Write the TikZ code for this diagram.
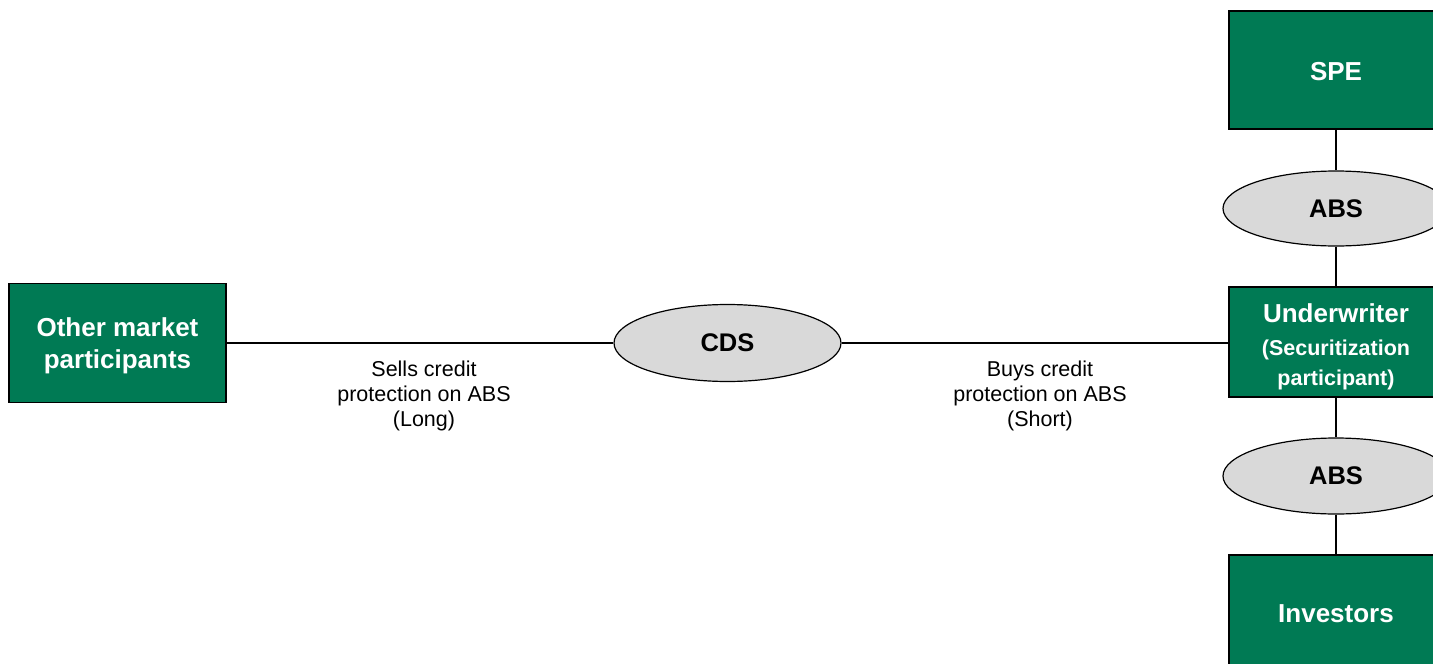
\documentclass[tikz,border=0pt]{standalone}
\usepackage{fontspec}
\setmainfont{Liberation Sans}
\usetikzlibrary{shapes.geometric}
\definecolor{boxgreen}{HTML}{007A54}
\definecolor{ovalgray}{HTML}{D9D9D9}
\newcommand{\subline}{\fontsize{21.5}{30}\selectfont}
\tikzset{
  party/.style={draw=black, line width=1.5pt, fill=boxgreen, text=white,
    rectangle, inner sep=0pt, align=center,
    font=\fontsize{26}{32}\selectfont\bfseries},
  deal/.style={draw=black, line width=1.2pt, fill=ovalgray, ellipse,
    inner sep=0pt, font=\fontsize{25.5}{30}\selectfont\bfseries},
  link/.style={draw=black, line width=1.8pt},
  note/.style={align=center, inner sep=0pt,
    font=\fontsize{21.5}{25}\selectfont}
}
\begin{document}
\begin{tikzpicture}[x=1pt, y=-1pt]
\useasboundingbox (0,0) rectangle (1433,664);
\clip (0,0) rectangle (1433,664);

% counterparties and securitization chain
\node[party, minimum width=217pt, minimum height=119pt] (omp) at (117.5,343)
  {\rule{0pt}{25pt}Other market\\participants};
\node[party, minimum width=214pt, minimum height=118pt] (spe) at (1336,70)
  {\rule{0pt}{22pt}SPE};
\node[party, minimum width=214pt, minimum height=110pt] (uw) at (1336,342)
  {\rule{0pt}{29pt}Underwriter\\[1pt]\subline(Securitization\\[-2pt]\subline participant)};
\node[party, minimum width=214pt, minimum height=118pt] (inv) at (1336,614) {Investors};

% instruments
\node[deal, minimum width=227pt, minimum height=77pt] (cds) at (727.5,343) {CDS};
\node[deal, minimum width=226pt, minimum height=75pt] (abs1) at (1336,208.5) {ABS};
\node[deal, minimum width=226pt, minimum height=76pt] (abs2) at (1336,476) {ABS};

% connectors
\draw[link] (omp.east) -- (cds.west);
\draw[link] (cds.east) -- (cds.east -| uw.west);
\draw[link] (spe.south) -- (abs1.north);
\draw[link] (abs1.south) -- (uw.north);
\draw[link] (uw.south) -- (abs2.north);
\draw[link] (abs2.south) -- (inv.north);

% positions
\node[note] (sells) at (424,395.5) {Sells credit\\protection on ABS\\(Long)};
\node[note] (buys) at (1040,395.5) {Buys credit\\protection on ABS\\(Short)};
\end{tikzpicture}
\end{document}
